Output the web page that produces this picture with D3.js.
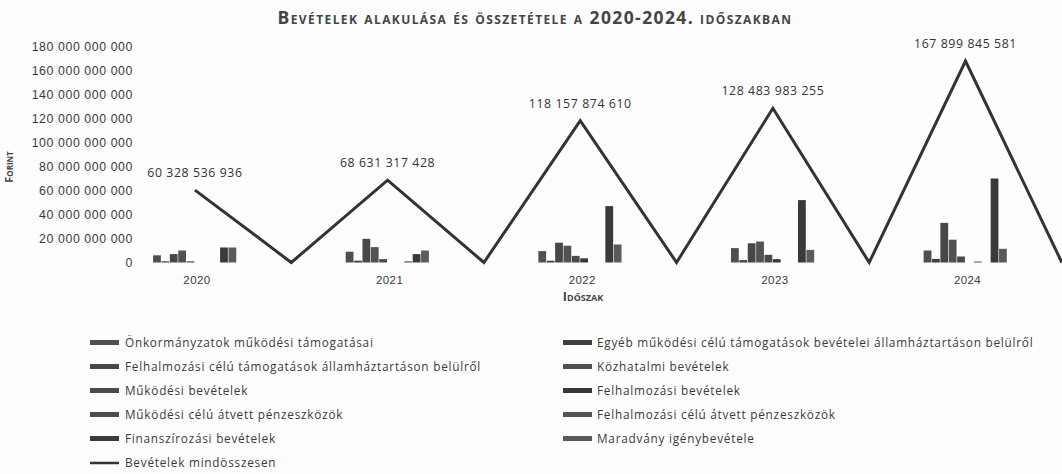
<!DOCTYPE html>
<meta charset="utf-8">
<style>
body { margin: 0; background: #fdfdfd; }
svg { font-family: "Open Sans", sans-serif; }
.title { font-weight: bold; font-variant: small-caps; fill: #444; }
.axis text { fill: #3a3a3a; }
.axis path, .axis line { display: none; }
.total { fill: none; stroke: #333; stroke-width: 3px; }
</style>
<svg width="1062" height="474"></svg>
<script src="https://cdn.jsdelivr.net/npm/d3@7"></script>
<script>

// slots on the category axis: every year is followed by an empty row
var categories = ["2020", "", "2021", "", "2022", "", "2023", "", "2024", ""];
var years = ["2020", "2021", "2022", "2023", "2024"];

// Bevételek mindösszesen (Ft)
var totals = [60328536936, 0, 68631317428, 0, 118157874610, 0, 128483983255, 0, 167899845581, 0];

var seriesNames = [
  "Önkormányzatok működési támogatásai",
  "Egyéb működési célú támogatások bevételei államháztartáson belülről",
  "Felhalmozási célú támogatások államháztartáson belülről",
  "Közhatalmi bevételek",
  "Működési bevételek",
  "Felhalmozási bevételek",
  "Működési célú átvett pénzeszközök",
  "Felhalmozási célú átvett pénzeszközök",
  "Finanszírozási bevételek",
  "Maradvány igénybevétele"
];

// bar values per year (billion Ft)
var onkormanyzati = [6, 9, 9.5, 12, 10];
var egyebMukodesi = [1, 1.5, 1.5, 2, 3];
var felhalmTamogatas = [7, 19.7, 16.5, 16, 33];
var kozhatalmi = [10, 12.8, 14, 17.5, 19];
var mukodesiBev = [1, 2.8, 5.5, 6.4, 5];
var felhalmBev = [0, 0, 3.5, 2.8, 0];
var mukodesiAtvett = [0, 0, 0, 0, 0.8];
var felhalmAtvett = [0, 1, 0, 0, 0];
var finanszirozasi = [12.5, 7, 47, 52, 70];
var maradvany = [12.5, 10, 15, 10.5, 11.4];

var seriesValues = [onkormanyzati, egyebMukodesi, felhalmTamogatas, kozhatalmi, mukodesiBev,
                    felhalmBev, mukodesiAtvett, felhalmAtvett, finanszirozasi, maradvany];

var yTicks = [0, 20e9, 40e9, 60e9, 80e9, 100e9, 120e9, 140e9, 160e9, 180e9];

var colors = ["#4f4f4f", "#404040", "#474747", "#525252", "#4a4a4a",
              "#383838", "#4d4d4d", "#555555", "#3a3a3a", "#5a5a5a"];

var svg = d3.select("svg");

var x = d3.scaleBand()
    .domain(d3.range(categories.length))
    .range([146.8, 1110]);

var y = d3.scaleLinear()
    .domain([0, 180e9])
    .range([262.5, 46.5]);

// bars sit inside one slot, Excel gap width 150%
var gw = x.bandwidth() * 10 / 11.5;
var xs = d3.scaleBand()
    .domain(seriesNames)
    .range([-gw / 2, gw / 2]);

var fmt = function(v) { return d3.format(",")(v).replace(/,/g, " "); };

// title
svg.append("text")
    .attr("class", "title")
    .attr("x", 535).attr("y", 24)
    .attr("text-anchor", "middle")
    .style("font-size", "17.5px")
    .style("letter-spacing", "1.4px")
    .text("Bevételek alakulása és összetétele a 2020-2024. időszakban");

// y axis
svg.append("g")
    .attr("class", "axis")
    .attr("transform", "translate(139,0)")
    .call(d3.axisLeft(y).tickValues(yTicks).tickSize(0).tickPadding(6).tickFormat(fmt))
    .selectAll("text")
    .style("font-size", "12.3px")
    .style("letter-spacing", "0.6px");

svg.append("text")
    .attr("class", "title")
    .attr("transform", "translate(13,167) rotate(-90)")
    .attr("text-anchor", "middle")
    .style("font-size", "11px")
    .text("Forint");

// x labels
svg.append("g")
    .attr("class", "axis")
    .attr("transform", "translate(0,270)")
    .call(d3.axisBottom(x).tickSize(0).tickPadding(6).tickFormat(function(i) { return categories[i]; }))
    .selectAll("text")
    .style("font-size", "11.5px")
    .style("letter-spacing", "0.4px")
    .attr("dx", 2);

svg.append("text")
    .attr("class", "title")
    .attr("x", 583).attr("y", 301)
    .attr("text-anchor", "middle")
    .style("font-size", "12.5px")
    .text("Időszak");

// bars
var plot = svg.append("g");
seriesNames.forEach(function(name, s) {
  plot.selectAll(null)
    .data(seriesValues[s])
    .enter().append("rect")
    .attr("x", function(d, i) { return x(categories.indexOf(years[i])) + x.bandwidth() / 2 + xs(name); })
    .attr("width", xs.bandwidth() - 0.6)
    .attr("y", function(d) { return y(d * 1e9); })
    .attr("height", function(d) { return y(0) - y(d * 1e9); })
    .attr("fill", colors[s]);
});

// total line
var line = d3.line()
    .x(function(d, i) { return x(i) + x.bandwidth() / 2; })
    .y(function(d) { return y(d); });

plot.append("path")
    .datum(totals)
    .attr("class", "total")
    .attr("stroke-linejoin", "miter")
    .attr("d", line);

plot.selectAll(".lbl")
    .data(totals.map(function(d, i) { return {v: d, i: i}; }).filter(function(d) { return d.v > 0; }))
    .enter().append("text")
    .attr("x", function(d) { return x(d.i) + x.bandwidth() / 2; })
    .attr("y", function(d) { return y(d.v) - 13; })
    .attr("text-anchor", "middle")
    .style("font-size", "12.3px")
    .style("letter-spacing", "0.6px")
    .attr("fill", "#333")
    .text(function(d) { return fmt(d.v); });

// legend, two columns like Excel
var legendItems = seriesNames.concat(["Bevételek mindösszesen"]);
var leg = svg.append("g").selectAll("g")
    .data(legendItems)
    .enter().append("g")
    .attr("transform", function(d, i) {
      return "translate(" + (i % 2 ? 563 : 90) + "," + (343 + Math.floor(i / 2) * 24) + ")";
    });

leg.each(function(d, i) {
  var g = d3.select(this);
  if (i < seriesNames.length) {
    g.append("rect").attr("x", 0).attr("y", -3).attr("width", 29).attr("height", 5).attr("fill", colors[i]);
  } else {
    g.append("line").attr("x1", 0).attr("x2", 29).attr("y1", 0).attr("y2", 0)
      .attr("stroke", "#333").attr("stroke-width", 2.5);
  }
  g.append("text")
    .attr("x", i % 2 ? 34 : 35).attr("y", 4)
    .style("font-size", "11.8px")
    .style("letter-spacing", "0.75px")
    .attr("fill", "#3a3a3a")
    .text(d);
});

</script>
